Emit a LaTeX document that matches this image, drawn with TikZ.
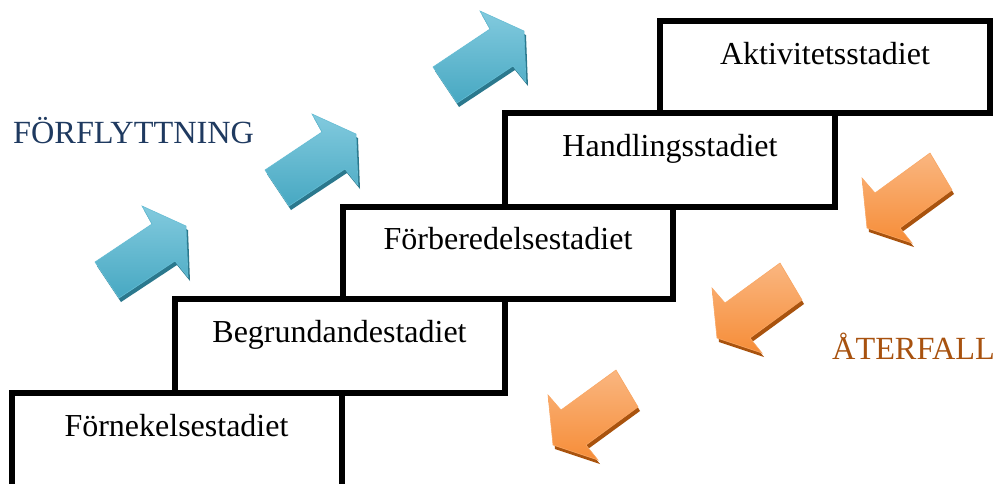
\documentclass[tikz,border=0pt]{standalone}
\usepackage{fontspec}
\setmainfont{Liberation Serif}
\definecolor{bluelt}{HTML}{82CADE}
\definecolor{bluemd}{HTML}{47A8C2}
\definecolor{bluedk}{HTML}{2B788D}
\definecolor{blueedge}{HTML}{66BDD4}
\definecolor{orlt}{HTML}{FAB680}
\definecolor{ormd}{HTML}{F68D38}
\definecolor{ordk}{HTML}{A9530E}
\definecolor{oredge}{HTML}{F9A764}
\definecolor{navy}{HTML}{1F3A60}
\definecolor{rust}{HTML}{A8520F}
\tikzset{
  stepbox/.style={draw=black, fill=white, line width=6pt, minimum width=330pt,
    minimum height=92pt, anchor=north west, outer sep=0pt, inner sep=0pt},
  steptext/.style={anchor=base, inner sep=0pt, font=\fontsize{32}{36}\selectfont},
  sidelabel/.style={anchor=base west, inner sep=0pt, font=\fontsize{32.3}{36}\selectfont},
  blueup/.pic={
    \fill[bluedk, shift={(2,4)}] (0,0) -- (57,-38) -- (47,-56) -- (91,-36) -- (93,15) -- (80,-1) -- (24,36) -- cycle;
    \shade[top color=bluelt, bottom color=bluemd, draw=blueedge, line width=0.6pt]
      (0,0) -- (57,-38) -- (47,-56) -- (91,-36) -- (93,15) -- (80,-1) -- (24,36) -- cycle;
  },
  orangedown/.pic={
    \fill[ordk, shift={(2,4)}] (0,0) -- (13,15) -- (68,-25) -- (90,12) -- (38,50) -- (50,65) -- (5,50) -- cycle;
    \shade[top color=orlt, bottom color=ormd, draw=oredge, line width=0.6pt]
      (0,0) -- (13,15) -- (68,-25) -- (90,12) -- (38,50) -- (50,65) -- (5,50) -- cycle;
  }
}
\begin{document}
\begin{tikzpicture}[x=1pt,y=-1pt]
\useasboundingbox[fill=white] (0,0) rectangle (997,483);
% boxes
\node[stepbox, minimum height=92pt] (b5) at (660,21) {};
\node[stepbox, minimum height=94pt] (b4) at (505,113) {};
\node[stepbox, minimum height=92pt] (b3) at (343,207) {};
\node[stepbox, minimum height=93.5pt] (b2) at (174.5,299) {};
\node[stepbox, minimum height=110pt] (b1) at (11.5,392.5) {};
% texts
\node[steptext] (t5) at ([yshift=-43pt]b5.north) {Aktivitetsstadiet};
\node[steptext] (t4) at ([yshift=-43pt]b4.north) {Handlingsstadiet};
\node[steptext] (t3) at ([yshift=-42pt]b3.north) {Förberedelsestadiet};
\node[steptext] (t2) at ([yshift=-43pt]b2.north) {Begrundandestadiet};
\node[steptext] (t1) at ([yshift=-44pt]b1.north) {Förnekelsestadiet};
% side labels
\node[sidelabel, text=navy] (fl) at (13,143) {FÖRFLYTTNING};
\node[sidelabel, text=rust] (af) at (832,359) {ÅTERFALL};
% arrows
\pic at (95,262) {blueup};
\pic at (265,170) {blueup};
\pic at (433,67) {blueup};
\pic at (862,178) {orangedown};
\pic at (712,288) {orangedown};
\pic at (548,395) {orangedown};
\end{tikzpicture}
\end{document}
